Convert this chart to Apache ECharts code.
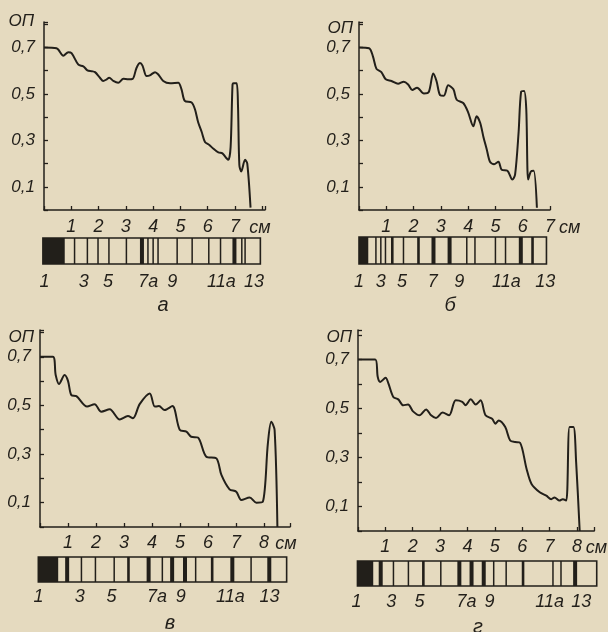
<!DOCTYPE html>
<html><head><meta charset="utf-8">
<script src="https://cdn.jsdelivr.net/npm/echarts@6/dist/echarts.min.js"></script>
<style>html,body{margin:0;padding:0;background:#e5dabf}#c{width:608px;height:632px}</style>
</head><body><div id="c"></div>
<script>
// ---------- DATA ----------
const yTickValues = [0.1, 0.3, 0.5, 0.7];
const yTickLabels = ['0,1', '0,3', '0,5', '0,7'];
const xTickLabels = ['1', '2', '3', '4', '5', '6', '7', '8'];
const yName = 'ОП';
const xName = 'см';
const panelLetters = ['а', 'б', 'в', 'г'];

// panel а
const curveA_x = [0, 0.46, 0.71, 0.89, 1.01, 1.26, 1.44, 1.59, 1.75, 1.87, 2.05, 2.17, 2.3, 2.39, 2.54, 2.72, 2.91, 3.09, 3.25, 3.39, 3.52, 3.61, 3.76, 3.88, 4.07, 4.19, 4.37, 4.62, 4.92, 5.04, 5.16, 5.41, 5.53, 5.65, 5.78, 5.9, 6.06, 6.2, 6.39, 6.54, 6.69, 6.76, 6.84, 6.91, 6.95, 7.06, 7.11, 7.16, 7.23, 7.37, 7.45, 7.57];
const curveA_y = [0.70, 0.697, 0.665, 0.68, 0.676, 0.626, 0.619, 0.602, 0.598, 0.594, 0.57, 0.556, 0.563, 0.57, 0.556, 0.548, 0.565, 0.563, 0.565, 0.612, 0.633, 0.622, 0.577, 0.58, 0.594, 0.584, 0.556, 0.546, 0.548, 0.52, 0.47, 0.463, 0.435, 0.378, 0.336, 0.293, 0.28, 0.265, 0.248, 0.244, 0.223, 0.216, 0.272, 0.54, 0.546, 0.546, 0.45, 0.194, 0.166, 0.216, 0.2, 0.01];
const stripA_box = [-0.04, 7.93];
const stripA_black = [-0.04, 0.76];
const stripA_bands = [1.12, 1.59, 1.98, 2.38, 3.02, 3.59, 3.81, 4.0, 4.18, 4.88, 5.43, 6.04, 6.47, 6.98, 7.25, 7.37];
const stripA_weights = [1, 1, 1, 1, 1, 3, 1, 1, 1, 1, 1, 1, 1, 3, 1, 1];
const fracLabelsA = ['1', '3', '5', '7а', '9', '11а', '13'];
const fracPosA = [0.02, 1.46, 2.35, 3.82, 4.7, 6.5, 7.7];

// panel б
const curveB_x = [0, 0.37, 0.51, 0.64, 0.82, 0.98, 1.19, 1.43, 1.64, 1.8, 1.95, 2.13, 2.38, 2.56, 2.72, 2.84, 2.97, 3.11, 3.27, 3.46, 3.58, 3.82, 4.0, 4.19, 4.31, 4.44, 4.56, 4.68, 4.8, 4.95, 5.11, 5.23, 5.44, 5.62, 5.72, 5.85, 5.94, 6.05, 6.13, 6.2, 6.3, 6.4, 6.52];
const curveB_y = [0.70, 0.697, 0.662, 0.608, 0.594, 0.563, 0.556, 0.544, 0.553, 0.541, 0.517, 0.527, 0.502, 0.509, 0.588, 0.556, 0.495, 0.492, 0.537, 0.52, 0.475, 0.461, 0.421, 0.361, 0.404, 0.376, 0.315, 0.262, 0.208, 0.197, 0.208, 0.173, 0.169, 0.131, 0.152, 0.336, 0.509, 0.513, 0.435, 0.131, 0.166, 0.169, 0.01];
const stripB_box = [0, 6.87];
const stripB_black = [0, 0.34];
const stripB_bands = [0.62, 0.8, 0.97, 1.22, 1.63, 2.18, 2.73, 3.32, 3.95, 4.25, 5.0, 5.37, 5.93, 6.36];
const stripB_weights = [1, 1, 1, 2, 1, 2, 3, 3, 1, 1, 1, 1, 3, 2];
const fracLabelsB = ['1', '3', '5', '7', '9', '11а', '13'];
const fracPosB = [0.0, 0.8, 1.58, 2.7, 3.67, 5.4, 6.83];

// panel в
const curveC_x = [0, 0.46, 0.56, 0.68, 0.88, 1.0, 1.12, 1.3, 1.68, 1.95, 2.19, 2.49, 2.85, 3.14, 3.32, 3.56, 3.92, 4.1, 4.25, 4.45, 4.73, 4.99, 5.23, 5.4, 5.64, 5.94, 6.3, 6.48, 6.77, 7.01, 7.19, 7.49, 7.73, 7.96, 8.14, 8.26, 8.38, 8.48];
const curveC_y = [0.70, 0.70, 0.625, 0.588, 0.625, 0.601, 0.542, 0.538, 0.495, 0.505, 0.474, 0.484, 0.442, 0.456, 0.447, 0.505, 0.549, 0.495, 0.497, 0.481, 0.497, 0.4, 0.392, 0.371, 0.368, 0.289, 0.282, 0.214, 0.155, 0.145, 0.111, 0.121, 0.1, 0.104, 0.344, 0.433, 0.399, 0.0];
const stripC_box = [-0.06, 8.81];
const stripC_black = [-0.06, 0.65];
const stripC_bands = [0.97, 1.48, 1.98, 2.65, 3.16, 3.88, 4.37, 4.72, 5.18, 5.56, 6.15, 6.87, 7.54, 8.19];
const stripC_weights = [3, 1, 1, 1, 2, 3, 1, 3, 3, 1, 2, 3, 1, 3];
const fracLabelsC = ['1', '3', '5', '7а', '9', '11а', '13'];
const fracPosC = [-0.05, 1.42, 2.55, 4.18, 5.03, 6.8, 8.2];

// panel г
const curveD_x = [0, 0.63, 0.72, 0.81, 1.01, 1.11, 1.29, 1.47, 1.65, 1.83, 2.01, 2.25, 2.49, 2.67, 2.85, 3.09, 3.33, 3.57, 3.81, 3.93, 4.12, 4.3, 4.48, 4.66, 4.9, 5.02, 5.14, 5.38, 5.56, 5.74, 5.92, 6.16, 6.34, 6.64, 6.88, 7.06, 7.18, 7.36, 7.48, 7.61, 7.73, 7.87, 7.97, 8.1];
const curveD_y = [0.70, 0.70, 0.629, 0.608, 0.625, 0.602, 0.547, 0.537, 0.513, 0.516, 0.488, 0.472, 0.496, 0.472, 0.461, 0.483, 0.472, 0.533, 0.527, 0.513, 0.537, 0.516, 0.533, 0.472, 0.458, 0.438, 0.451, 0.424, 0.369, 0.363, 0.36, 0.253, 0.192, 0.158, 0.144, 0.13, 0.137, 0.124, 0.13, 0.124, 0.424, 0.424, 0.281, 0.0];
const stripD_box = [-0.02, 8.62];
const stripD_black = [-0.02, 0.55];
const stripD_bands = [0.82, 1.28, 1.82, 2.36, 2.99, 3.66, 4.1, 4.54, 4.9, 5.35, 5.96, 7.04, 7.33, 7.84];
const stripD_weights = [3, 1, 1, 2, 1, 3, 3, 3, 1, 1, 2, 1, 1, 3];
const fracLabelsD = ['1', '3', '5', '7а', '9', '11а', '13'];
const fracPosD = [-0.05, 1.2, 2.22, 3.92, 4.75, 6.92, 8.06];

// ---------- LAYOUT / STYLE ----------
const INK = '#221f1a';
const FONT = '"Liberation Sans", "DejaVu Sans", sans-serif';

const panels = [
  { cx: curveA_x, cy: curveA_y, box: stripA_box, black: stripA_black, bands: stripA_bands, w: stripA_weights, labels: fracLabelsA, lpos: fracPosA, letter: panelLetters[0],
    L: { left: 44, top: 22, width: 221, height: 188, xMax: 8.1, lastLabel: 7, yMax: 0.81, stripTop: 238, stripH: 26, lblOff: 18, letterX: 163, letterY: 305, cmGap: -5, opGap: 1, opPad: 10, xMargin: 8 } },
  { cx: curveB_x, cy: curveB_y, box: stripB_box, black: stripB_black, bands: stripB_bands, w: stripB_weights, labels: fracLabelsB, lpos: fracPosB, letter: panelLetters[1],
    L: { left: 359, top: 22, width: 191, height: 188, xMax: 7.0, lastLabel: 7, yMax: 0.81, stripTop: 237, stripH: 27, lblOff: 18, letterX: 450, letterY: 305, cmGap: 17, opGap: -6, opPad: 6, xMargin: 8 } },
  { cx: curveC_x, cy: curveC_y, box: stripC_box, black: stripC_black, bands: stripC_bands, w: stripC_weights, labels: fracLabelsC, lpos: fracPosC, letter: panelLetters[2],
    L: { left: 40, top: 330, width: 250, height: 197, xMax: 8.93, lastLabel: 8, yMax: 0.81, stripTop: 557, stripH: 25, lblOff: 15, letterX: 170, letterY: 623, cmGap: -4, opGap: -7, opPad: 6, xMargin: 7 } },
  { cx: curveD_x, cy: curveD_y, box: stripD_box, black: stripD_black, bands: stripD_bands, w: stripD_weights, labels: fracLabelsD, lpos: fracPosD, letter: panelLetters[3],
    L: { left: 358, top: 330, width: 239, height: 201, xMax: 8.63, lastLabel: 8, yMax: 0.82, stripTop: 561, stripH: 25, lblOff: 16, letterX: 478, letterY: 627, cmGap: 0, opGap: -7, opPad: 6, xMargin: 7 } }
];

const chart = echarts.init(document.getElementById('c'), null, { renderer: 'canvas' });
const grid = [], xAxis = [], yAxis = [], series = [], graphic = [];

panels.forEach((p) => {
  const L = p.L;
  const gi = grid.length;
  grid.push({ left: L.left, top: L.top, width: L.width, height: L.height });
  grid.push({ left: L.left, top: L.stripTop, width: L.width, height: L.stripH });

  xAxis.push({
    gridIndex: gi, type: 'value', min: 0, max: L.xMax, interval: 1,
    axisLine: { lineStyle: { color: INK, width: 1.5 } },
    axisTick: { inside: true, length: 4, lineStyle: { color: INK, width: 1.3 } },
    splitLine: { show: false },
    axisLabel: {
      color: INK, fontSize: 18, fontStyle: 'italic', fontFamily: FONT, margin: L.xMargin,
      formatter: (v) => { const r = Math.round(v); return (Math.abs(v - r) < 1e-6 && r > 0 && r <= L.lastLabel) ? xTickLabels[r - 1] : ''; }
    },
    name: xName, nameLocation: 'end', nameGap: L.cmGap,
    nameTextStyle: { color: INK, fontSize: 18, fontStyle: 'italic', fontFamily: FONT, align: 'center', verticalAlign: 'top', padding: [L.xMargin + 1, 0, 0, 0] }
  });
  xAxis.push({ gridIndex: gi + 1, type: 'value', min: 0, max: L.xMax, show: false });

  yAxis.push({
    gridIndex: gi, type: 'value', min: 0, max: L.yMax, interval: 0.1,
    axisLine: { show: true, lineStyle: { color: INK, width: 1.5 } },
    axisTick: { show: true, inside: true, length: 4, lineStyle: { color: INK, width: 1.3 } },
    splitLine: { show: false },
    axisLabel: {
      color: INK, fontSize: 17, fontStyle: 'italic', fontFamily: FONT, margin: 9,
      formatter: (v) => { const i = yTickValues.findIndex(t => Math.abs(t - v) < 1e-6); return i >= 0 ? yTickLabels[i] : ''; }
    },
    name: yName, nameLocation: 'end', nameGap: L.opGap,
    nameTextStyle: { color: INK, fontSize: 17, fontStyle: 'italic', fontFamily: FONT, align: 'right', verticalAlign: 'middle', padding: [0, L.opPad, 0, 0] }
  });
  yAxis.push({ gridIndex: gi + 1, type: 'value', min: 0, max: 1, show: false });

  // densitogram curve
  series.push({
    type: 'line', xAxisIndex: gi, yAxisIndex: gi,
    data: p.cx.map((x, k) => [x, p.cy[k]]),
    showSymbol: false, smooth: 0.3, silent: true,
    lineStyle: { color: INK, width: 2 }
  });

  // strip: black start zone
  series.push({
    type: 'custom', xAxisIndex: gi + 1, yAxisIndex: gi + 1, clip: false, silent: true,
    data: [p.black],
    renderItem: (params, api) => {
      const a = api.coord([api.value(0), 1]), b = api.coord([api.value(1), 0]);
      return { type: 'rect', shape: { x: a[0], y: a[1], width: b[0] - a[0], height: b[1] - a[1] }, style: { fill: INK } };
    }
  });
  // strip: bands
  series.push({
    type: 'custom', xAxisIndex: gi + 1, yAxisIndex: gi + 1, clip: false, silent: true,
    data: p.bands.map((x, k) => [x, p.w[k]]),
    renderItem: (params, api) => {
      const x = api.value(0), w = api.value(1);
      const a = api.coord([x, 1]), b = api.coord([x, 0]);
      const bw = w === 3 ? 4 : (w === 2 ? 2.6 : 1.5);
      return { type: 'rect', shape: { x: a[0] - bw / 2, y: a[1], width: bw, height: b[1] - a[1] }, style: { fill: INK } };
    }
  });
  // strip: outline
  series.push({
    type: 'custom', xAxisIndex: gi + 1, yAxisIndex: gi + 1, clip: false, silent: true,
    data: [p.box],
    renderItem: (params, api) => {
      const a = api.coord([api.value(0), 1]), b = api.coord([api.value(1), 0]);
      return { type: 'rect', shape: { x: a[0], y: a[1], width: b[0] - a[0], height: b[1] - a[1] }, style: { fill: 'none', stroke: INK, lineWidth: 1.6 } };
    }
  });
  // strip: fraction labels
  series.push({
    type: 'custom', xAxisIndex: gi + 1, yAxisIndex: gi + 1, clip: false, silent: true,
    data: p.lpos.map((x, k) => [x, k]),
    renderItem: (params, api) => {
      const c = api.coord([api.value(0), 0]);
      return { type: 'text', x: c[0], y: c[1] + L.lblOff, style: { text: p.labels[api.value(1)], fill: INK, fontSize: 18, fontStyle: 'italic', fontFamily: FONT, align: 'center', verticalAlign: 'middle' } };
    }
  });

  graphic.push({ type: 'text', x: L.letterX, y: L.letterY, silent: true,
    style: { text: p.letter, fill: INK, fontSize: 20, fontStyle: 'italic', fontFamily: FONT, align: 'center', verticalAlign: 'middle' } });
});

chart.setOption({
  backgroundColor: '#e5dabf',
  animation: false,
  grid, xAxis, yAxis, series, graphic
});
</script>
</body></html>
